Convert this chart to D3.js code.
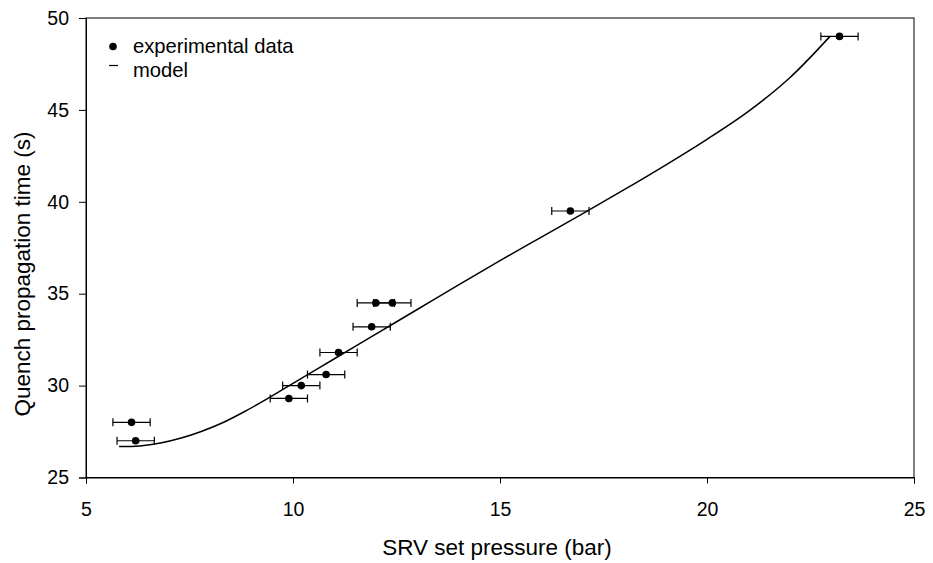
<!DOCTYPE html>
<html><head><meta charset="utf-8">
<script src="https://cdn.jsdelivr.net/npm/d3@7"></script>
<style>body{margin:0;background:#fff;} svg{display:block;font-family:"Liberation Sans",Arial,sans-serif;}</style>
</head><body><svg id="c" width="933" height="563"></svg>
<script>
const expX = [6.1, 6.2, 9.9, 10.2, 10.8, 11.1, 11.9, 12.0, 12.4, 16.7, 23.2];
const expY = [28.0, 27.0, 29.3, 30.0, 30.6, 31.8, 33.2, 34.5, 34.5, 39.5, 49.0];
const expErr = [0.45, 0.45, 0.45, 0.45, 0.45, 0.45, 0.45, 0.45, 0.45, 0.45, 0.45];
const modelX = [5.8, 6.3, 6.8, 7.3, 7.8, 8.3, 8.8, 9.3, 10.0, 11.0, 12.0, 13.0, 14.0, 15.0, 16.0, 17.0, 18.0, 19.0, 20.0, 21.0, 22.0, 22.97];
const modelY = [26.68, 26.72, 26.88, 27.15, 27.52, 27.98, 28.55, 29.18, 30.12, 31.46, 32.8, 34.14, 35.48, 36.8, 38.08, 39.36, 40.66, 42.0, 43.4, 44.92, 46.75, 49.0];
const xTicks = [5, 10, 15, 20, 25];
const yTicks = [25, 30, 35, 40, 45, 50];

const svg = d3.select("#c");
const x = d3.scaleLinear().domain([5, 25]).range([86, 914]);
const y = d3.scaleLinear().domain([25, 50]).range([477.5, 18]);

// frame
svg.append("rect").attr("x", 86).attr("y", 18).attr("width", 828).attr("height", 459.5)
  .attr("fill", "none").attr("stroke", "#000").attr("stroke-width", 1);

const xa = svg.append("g").attr("transform", "translate(0,477.5)")
  .call(d3.axisBottom(x).tickValues(xTicks).tickSize(6).tickPadding(19).tickFormat(d3.format("d")));
const ya = svg.append("g").attr("transform", "translate(86,0)")
  .call(d3.axisLeft(y).tickValues(yTicks).tickSize(7).tickPadding(10).tickFormat(d3.format("d")));
[xa, ya].forEach(g => {
  g.selectAll("text").attr("font-size", 19.5).attr("font-family", "Liberation Sans, Arial, sans-serif").attr("fill", "#000");
  g.selectAll("line,path").attr("stroke", "#000");
});

// model curve
const line = d3.line().x(d => x(d[0])).y(d => y(d[1])).curve(d3.curveCatmullRom);
svg.append("path").datum(modelX.map((v, i) => [v, modelY[i]]))
  .attr("d", line).attr("fill", "none").attr("stroke", "#000").attr("stroke-width", 1.5);

// error bars and points
const pts = expX.map((v, i) => ({x: v, y: expY[i], e: expErr[i]}));
const g = svg.append("g");
pts.forEach(p => {
  g.append("line").attr("x1", x(p.x - p.e)).attr("x2", x(p.x + p.e)).attr("y1", y(p.y)).attr("y2", y(p.y)).attr("stroke", "#000").attr("stroke-width", 1.2);
  [p.x - p.e, p.x + p.e].forEach(xv => {
    g.append("line").attr("x1", x(xv)).attr("x2", x(xv)).attr("y1", y(p.y) - 4).attr("y2", y(p.y) + 4).attr("stroke", "#000").attr("stroke-width", 1.2);
  });
  g.append("circle").attr("cx", x(p.x)).attr("cy", y(p.y)).attr("r", 3.8).attr("fill", "#000");
});

// legend
svg.append("circle").attr("cx", 113).attr("cy", 46.5).attr("r", 3.8).attr("fill", "#000");
svg.append("text").attr("x", 133).attr("y", 53.3).attr("font-size", 20.2).text("experimental data");
svg.append("line").attr("x1", 109).attr("x2", 118).attr("y1", 65.5).attr("y2", 65.5).attr("stroke", "#000").attr("stroke-width", 1.2);
svg.append("text").attr("x", 133).attr("y", 76.7).attr("font-size", 20.2).text("model");

// axis titles
svg.append("text").attr("x", 497).attr("y", 555).attr("text-anchor", "middle").attr("font-size", 22.5).text("SRV set pressure (bar)");
svg.append("text").attr("transform", "translate(30,274) rotate(-90)").attr("text-anchor", "middle").attr("font-size", 22.5).text("Quench propagation time (s)");
</script></body></html>
